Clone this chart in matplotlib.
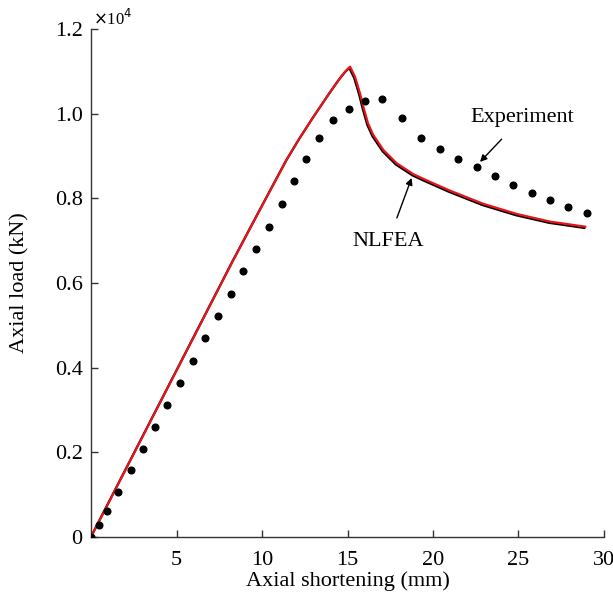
import numpy as np
import matplotlib.pyplot as plt
import matplotlib.patheffects as pe

plt.rcParams['font.family'] = ['Liberation Serif', 'DejaVu Serif']

# experiment (mm, kN)
exp_x = [0, 0.47, 0.94, 1.6, 2.32, 3.02, 3.73, 4.46, 5.2, 5.95, 6.68, 7.44, 8.19, 8.9,
         9.67, 10.4, 11.15, 11.87, 12.6, 13.35, 14.15, 15.09, 16.04, 17.0, 18.17, 19.3,
         20.4, 21.48, 22.55, 23.6, 24.7, 25.8, 26.86, 27.9, 28.98]
exp_y = [0, 283, 610, 1070, 1590, 2090, 2600, 3120, 3640, 4160, 4690, 5220, 5750, 6280,
         6800, 7330, 7870, 8410, 8920, 9420, 9850, 10120, 10310, 10350, 9890, 9430,
         9160, 8920, 8730, 8520, 8320, 8120, 7950, 7790, 7650]

# NLFEA curve (mm, kN)
fea_x = [0, 2.67, 5, 8.32, 9.88, 11.44, 12.2, 13.0, 13.5, 14.0, 14.56, 14.9, 15.15,
         15.44, 15.73, 15.92, 16.2, 16.5, 17.1, 17.87, 18.85, 19.6, 21.0, 22.94,
         24.9, 26.84, 28.9]
fea_y = [0, 2100, 3930, 6540, 7730, 8910, 9420, 9920, 10220, 10520, 10840, 11010, 11110,
         10870, 10480, 10170, 9770, 9500, 9140, 8830, 8570, 8430, 8180, 7870,
         7630, 7450, 7330]

yticks = [0, 2000, 4000, 6000, 8000, 10000, 12000]
ytick_labels = ['0', '0.2', '0.4', '0.6', '0.8', '1.0', '1.2']
xticks = [5, 10, 15, 20, 25, 30]

fig = plt.figure(figsize=(6.13, 5.95), dpi=100)
ax = fig.add_axes([0.1485, 0.0975, 0.8368, 0.8538])

ax.plot(fea_x, fea_y, color='#e8141b', lw=1.6,
        path_effects=[pe.Stroke(offset=(-0.6, -0.9), linewidth=1.6, foreground='black'),
                      pe.Normal()])
ax.plot(exp_x, exp_y, 'o', color='black', ms=4.8, ls='none', zorder=3)

ax.set_xlim(0, 30)
ax.set_ylim(0, 12000)
ax.set_xticks(xticks)
ax.set_yticks(yticks)
ax.set_yticklabels(ytick_labels)
for s in ['top', 'right']:
    ax.spines[s].set_visible(False)
for s in ['left', 'bottom']:
    ax.spines[s].set_color('#333333')
    ax.spines[s].set_linewidth(1.0)
    ax.spines[s].set_clip_on(False)
ax.tick_params(direction='in', length=5, width=1.0, color='#333333', labelsize=16)
ax.tick_params(axis='x', pad=10)
ax.tick_params(axis='y', pad=6)

ax.set_xlabel('Axial shortening (mm)', fontsize=16, labelpad=1)
ax.set_ylabel('Axial load (kN)', fontsize=16, labelpad=18)
ax.text(0.004, 1.0, r'$\times$10$^4$', transform=ax.transAxes, fontsize=12,
        ha='left', va='bottom')

ax.annotate('Experiment', xy=(22.75, 8860), xytext=(25.2, 9900),
            fontsize=16, ha='center', va='center',
            arrowprops=dict(arrowstyle='-|>', color='black', lw=1.0,
                            shrinkA=9, shrinkB=0, mutation_scale=10))
ax.annotate('NLFEA', xy=(18.75, 8480), xytext=(17.37, 6970),
            fontsize=16, ha='center', va='center',
            arrowprops=dict(arrowstyle='-|>', color='black', lw=1.0,
                            shrinkA=9, shrinkB=0, mutation_scale=10))

fig.savefig('out.png', dpi=100)
